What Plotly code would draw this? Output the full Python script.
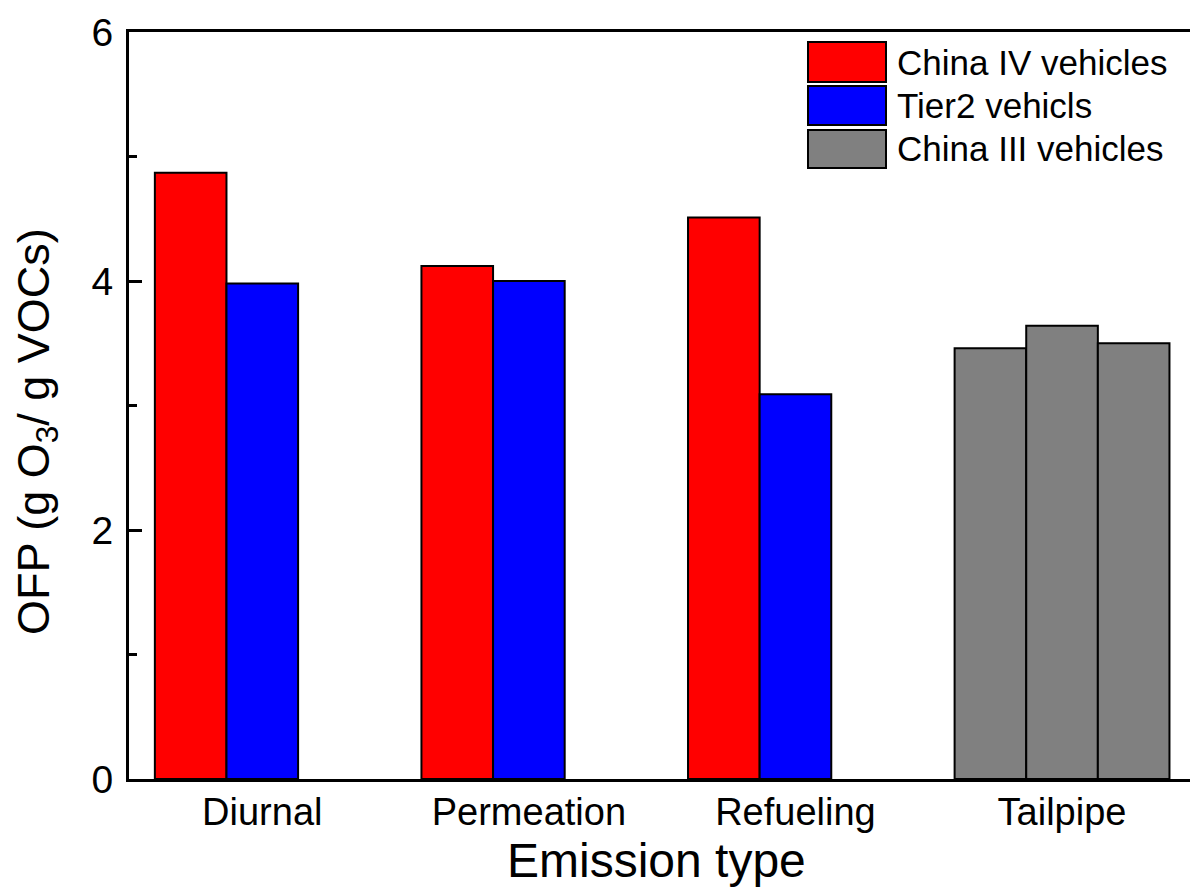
import plotly.graph_objects as go

# OFP per emission type; each emission type has three bar slots
categories = ["Diurnal", "Permeation", "Refueling", "Tailpipe"]
china4_vals = [4.87, 4.12, 4.51, 3.46]
tier2_vals = [3.98, 4.00, 3.09, 3.64]
china3_vals = [None, None, None, 3.50]

series_names = ["China IV vehicles", "Tier2 vehicls", "China III vehicles"]
RED, BLUE, GRAY = "#FF0000", "#0000FF", "#808080"

W, H = 1190, 891
ML, MR, MT, MB = 129, 0, 32, 112
FONT = "Liberation Sans, Arial, sans-serif"

def slot_colors(base):
    # tailpipe bars are all drawn in gray
    return [GRAY if c == "Tailpipe" else base for c in categories]

fig = go.Figure()
for name, vals, col in [
    (series_names[0], china4_vals, RED),
    (series_names[1], tier2_vals, BLUE),
    (series_names[2], china3_vals, GRAY),
]:
    fig.add_trace(go.Bar(
        x=categories, y=vals, name=name,
        marker=dict(color=slot_colors(col), line=dict(color="black", width=2)),
        showlegend=False,
    ))

fig.update_layout(
    width=W, height=H,
    margin=dict(l=ML, r=MR, t=MT, b=MB),
    paper_bgcolor="white", plot_bgcolor="white",
    barmode="group", bargap=0.194, bargroupgap=0,
    font=dict(family=FONT, color="black"),
    showlegend=False,
)

fig.update_xaxes(
    range=[-0.5, 3.48],
    showline=True, linecolor="black", linewidth=3, mirror=True,
    ticks="", showgrid=False, zeroline=False,
    tickfont=dict(size=38, family=FONT),
    ticklabelstandoff=-3,
)
fig.update_yaxes(
    range=[0, 6], dtick=2, tick0=0,
    showline=True, linecolor="black", linewidth=3, mirror=False,
    ticks="inside", ticklen=13, tickwidth=3, tickcolor="black",
    minor=dict(dtick=1, ticks="inside", ticklen=8, tickwidth=3, tickcolor="black", showgrid=False),
    showgrid=False, zeroline=False,
    tickfont=dict(size=39, family=FONT),
    ticklabelstandoff=5,
)

# pixel layout converted to paper units
pw, ph = W - ML - MR, H - MT - MB
def px(x):
    return (x - ML) / pw
def py(y):
    return 1 - (y - MT) / ph

# axis titles
fig.add_annotation(xref="paper", yref="paper", x=px(656), y=py(860),
                   text="Emission type", showarrow=False,
                   xanchor="center", yanchor="middle",
                   font=dict(size=48, family=FONT, color="black"))
fig.add_annotation(xref="paper", yref="paper", x=px(36), y=py(432),
                   text="OFP (g O<sub>3</sub>/ g VOCs)", showarrow=False, textangle=-90,
                   xanchor="center", yanchor="middle",
                   font=dict(size=45, family=FONT, color="black"))

# legend: outlined swatches with labels
swatches = [(42, 82), (86, 125), (130, 168)]
for (top, bot), name, col in zip(swatches, series_names, [RED, BLUE, GRAY]):
    fig.add_shape(type="rect", xref="paper", yref="paper",
                  x0=px(808), x1=px(886), y0=py(bot), y1=py(top),
                  fillcolor=col, line=dict(color="black", width=2))
    fig.add_annotation(xref="paper", yref="paper", x=px(895), y=py((top + bot) / 2),
                       text=name, showarrow=False, xanchor="left", yanchor="middle",
                       font=dict(size=35, family=FONT, color="black"))

fig.write_html("out.html")
